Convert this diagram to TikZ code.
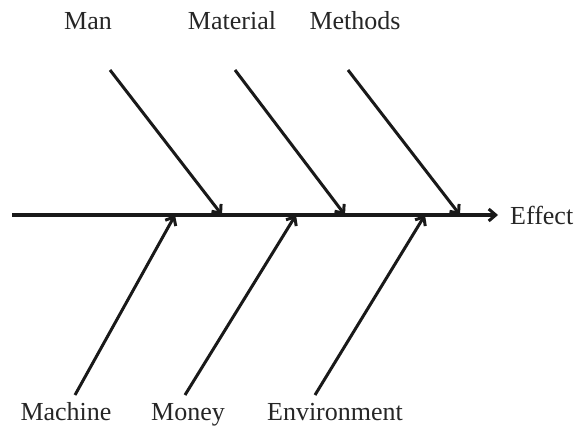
\documentclass[tikz,border=0pt]{standalone}
\usepackage{fontspec}
\setmainfont{Liberation Serif}
\usetikzlibrary{arrows.meta}

\begin{document}
\begin{tikzpicture}[
  x=1pt, y=-1pt,
  font=\fontsize{26}{28}\selectfont,
  >={Straight Barb[length=7pt,width=12pt,line width=3pt]},
  cause/.style={inner sep=1pt, text=black!85, anchor=base},
  bone/.style={->, line width=3pt, black!90},
  spine/.style={->, line width=3.2pt, black!90, shorten >=12pt}
]
\useasboundingbox (0,0) rectangle (576,428);

%% -- spine ----------------------------------------------------------
\coordinate (tail) at (12,215);
\node[inner sep=0pt, text=black!85, anchor=west] (effect) at (510,215) {Effect};
\draw[spine] (tail) -- (effect.west);

%% -- upper causes ---------------------------------------------------
\node[cause] (man)      at (88,30)  {Man};
\node[cause] (material) at (232,30) {Material};
\node[cause] (methods)  at (355,30) {Methods};

\foreach \n/\xs/\xe in {man/110/222, material/235/345, methods/348/460}{
  \coordinate (\n-s) at (\xs,70);
  \coordinate (\n-e) at (\xe,215);
  \draw[bone] (\n-s) -- (\n-e);
}

%% -- lower causes ---------------------------------------------------
\node[cause] (machine) at (66,420)  {Machine};
\node[cause] (money)   at (188,420) {Money};
\node[cause] (environ) at (335,420) {Environment};

\foreach \n/\xs/\xe in {machine/75/175, money/185/296, environ/315/425}{
  \coordinate (\n-s) at (\xs,395);
  \coordinate (\n-e) at (\xe,215);
  \draw[bone] (\n-s) -- (\n-e);
}

\end{tikzpicture}
\end{document}
